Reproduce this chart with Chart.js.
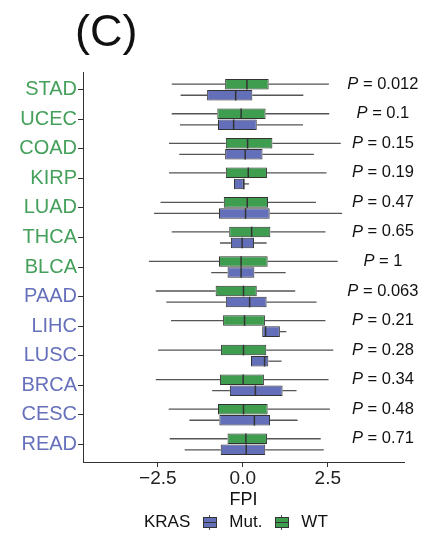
<!DOCTYPE html>
<html>
<head>
<meta charset="utf-8">
<title>FPI by KRAS status</title>
<script src="https://cdn.jsdelivr.net/npm/chart.js@4.4.0/dist/chart.umd.min.js"></script>
<style>
    body { margin: 0; background: #fff; font-family: "Liberation Sans", Arial, sans-serif; }
    #page { position: relative; width: 430px; height: 540px; overflow: hidden; }
    #panel { position: absolute; left: 75px; top: 8px; font-size: 45px; line-height: 45px; color: #111; }
    #fpiChart { position: absolute; left: 0; top: 0; }
    #legend { position: absolute; left: 144px; top: 512px; height: 20px; display: flex; align-items: center;
              font-size: 17px; line-height: 20px; color: #111; }
    .key { position: relative; display: inline-block; width: 15px; height: 15px; margin: 0 12px; }
    .key::before { content: ''; position: absolute; left: 7px; top: 0; height: 15px; border-left: 1px solid #555; }
    .key i { position: absolute; left: 1px; top: 2px; width: 12px; height: 9px; border: 1px solid #333; }
    .key i::after { content: ''; position: absolute; left: 0; right: 0; top: 4px; border-top: 1px solid #333; }
    .key.mut i { background: #6370b9; }
    .key.wt i { background: #3f9d50; }
</style>
</head>
<body>
<div id="page">
    <canvas id="fpiChart" width="430" height="540"></canvas>
    <div id="panel">(C)</div>
    <div id="legend">
        <span>KRAS</span><span class="key mut"><i></i></span><span>Mut.</span><span class="key wt"><i></i></span><span>WT</span>
    </div>
</div>
<script>
    // Categories (top to bottom) and label colour group
    const cancerTypes = ['STAD', 'UCEC', 'COAD', 'KIRP', 'LUAD', 'THCA', 'BLCA', 'PAAD', 'LIHC', 'LUSC', 'BRCA', 'CESC', 'READ'];
    const labelGroup = ['wt', 'wt', 'wt', 'wt', 'wt', 'wt', 'wt', 'mut', 'mut', 'mut', 'mut', 'mut', 'mut'];

    // KRAS wild type boxplot stats
    const wtMin    = [-2.09, -2.09, -2.17, -2.17, -2.42, -2.09, -2.76, -2.56, -2.11, -2.49, -2.56, -2.18, -2.15];
    const wtQ1     = [-0.52, -0.75, -0.50, -0.50, -0.56, -0.40, -0.70, -0.80, -0.58, -0.64, -0.67, -0.73, -0.45];
    const wtMedian = [0.12, -0.05, 0.14, 0.16, 0.13, 0.26, -0.05, 0.02, 0.05, 0.02, 0.01, 0.02, 0.09];
    const wtQ3     = [0.76, 0.67, 0.87, 0.71, 0.74, 0.81, 0.73, 0.41, 0.65, 0.69, 0.62, 0.73, 0.71];
    const wtMax    = [2.53, 2.54, 2.88, 2.46, 2.15, 2.43, 2.79, 1.54, 2.43, 2.66, 2.52, 2.56, 2.29];

    // KRAS mutant boxplot stats
    const mutMin    = [-1.83, -1.85, -1.87, -0.26, -2.61, -0.67, -0.93, -2.25, 0.57, 0.24, -0.90, -1.57, -1.71];
    const mutQ1     = [-1.05, -0.73, -0.52, -0.26, -0.70, -0.35, -0.45, -0.50, 0.57, 0.24, -0.38, -0.69, -0.65];
    const mutMedian = [-0.21, -0.27, 0.07, 0.03, 0.08, -0.02, -0.05, 0.20, 0.67, 0.64, 0.37, 0.34, 0.10];
    const mutQ3     = [0.28, 0.41, 0.58, 0.03, 0.79, 0.33, 0.34, 0.70, 1.09, 0.75, 1.17, 0.80, 0.66];
    const mutMax    = [1.78, 1.77, 2.09, 0.18, 2.92, 0.70, 1.26, 2.17, 1.28, 1.14, 1.58, 1.61, 2.38];

    const pValues = ['0.012', '0.1', '0.15', '0.19', '0.47', '0.65', '1', '0.063', '0.21', '0.28', '0.34', '0.48', '0.71'];
    const xTicks = [-2.5, 0, 2.5];

    const FONT = '"Liberation Sans", Arial, sans-serif';
    const greenFill = '#3f9d50';
    const blueFill = '#6370b9';
    const greenText = '#45a05c';
    const blueText = '#6670bb';

    const stats = [
        { min: wtMin, med: wtMedian, max: wtMax },
        { min: mutMin, med: mutMedian, max: mutMax }
    ];

    // Whiskers behind the boxes, medians and P values on top
    const boxplotExtras = {
        id: 'boxplotExtras',
        beforeDatasetsDraw(chart) {
            const ctx = chart.ctx;
            const x = chart.scales.x;
            ctx.save();
            ctx.strokeStyle = '#555';
            ctx.lineWidth = 1.3;
            stats.forEach((s, d) => {
                chart.getDatasetMeta(d).data.forEach((bar, i) => {
                    const q = chart.data.datasets[d].data[i].x;
                    ctx.beginPath();
                    ctx.moveTo(x.getPixelForValue(s.min[i]), bar.y);
                    ctx.lineTo(x.getPixelForValue(q[0]), bar.y);
                    ctx.moveTo(x.getPixelForValue(q[1]), bar.y);
                    ctx.lineTo(x.getPixelForValue(s.max[i]), bar.y);
                    ctx.stroke();
                });
            });
            ctx.restore();
        },
        afterDatasetsDraw(chart) {
            const ctx = chart.ctx;
            const x = chart.scales.x;
            ctx.save();
            ctx.strokeStyle = '#333';
            ctx.lineWidth = 1.5;
            stats.forEach((s, d) => {
                chart.getDatasetMeta(d).data.forEach((bar, i) => {
                    const px = x.getPixelForValue(s.med[i]);
                    ctx.beginPath();
                    ctx.moveTo(px, bar.y - bar.height / 2);
                    ctx.lineTo(px, bar.y + bar.height / 2);
                    ctx.stroke();
                });
            });

            // P values beside the WT box of each row
            ctx.fillStyle = '#111';
            ctx.textBaseline = 'middle';
            ctx.textAlign = 'left';
            const cx = x.getPixelForValue(4.12);
            chart.getDatasetMeta(0).data.forEach((bar, i) => {
                const rest = ' = ' + pValues[i];
                ctx.font = 'italic 16.5px ' + FONT;
                const wP = ctx.measureText('P').width;
                ctx.font = '16.5px ' + FONT;
                const wR = ctx.measureText(rest).width;
                const start = cx - (wP + wR) / 2;
                ctx.font = 'italic 16.5px ' + FONT;
                ctx.fillText('P', start, bar.y);
                ctx.font = '16.5px ' + FONT;
                ctx.fillText(rest, start + wP, bar.y);
            });
            ctx.restore();
        }
    };

    const ctx = document.getElementById('fpiChart').getContext('2d');
    const fpiChart = new Chart(ctx, {
        type: 'bar',
        data: {
            datasets: [{
                label: 'WT',
                data: cancerTypes.map((c, i) => ({ y: i, x: [wtQ1[i], wtQ3[i]] })),
                backgroundColor: greenFill,
                borderColor: '#333',
                borderWidth: 1,
                borderSkipped: false
            }, {
                label: 'Mut.',
                data: cancerTypes.map((c, i) => ({ y: i, x: [mutQ1[i], mutQ3[i]] })),
                backgroundColor: blueFill,
                borderColor: '#333',
                borderWidth: 1,
                borderSkipped: false
            }]
        },
        options: {
            indexAxis: 'y',
            responsive: false,
            animation: false,
            devicePixelRatio: 1,
            categoryPercentage: 0.75,
            barPercentage: 0.95,
            layout: { padding: { top: 72, right: 26, bottom: 28, left: 0 } },
            plugins: {
                legend: { display: false },
                tooltip: { enabled: false }
            },
            scales: {
                x: {
                    type: 'linear',
                    min: -4.7,
                    max: 4.74,
                    afterBuildTicks: function(scale) {
                        scale.ticks = xTicks.map(v => ({ value: v }));
                    },
                    afterFit: function(scale) {
                        scale.height = 50;
                    },
                    grid: { drawOnChartArea: false, drawTicks: true, tickLength: 5, color: '#333' },
                    border: { color: '#333', width: 1 },
                    ticks: {
                        padding: 0,
                        color: '#222',
                        font: { family: FONT, size: 19 },
                        callback: function(value) {
                            return value < 0 ? '\u2212' + Math.abs(value).toFixed(1) : value.toFixed(1);
                        }
                    },
                    title: {
                        display: true,
                        text: 'FPI',
                        color: '#111',
                        padding: { top: 0, bottom: 1 },
                        font: { family: FONT, size: 18 }
                    }
                },
                y: {
                    type: 'linear',
                    reverse: true,
                    offset: false,
                    min: -0.6,
                    max: 12.6,
                    afterBuildTicks: function(scale) {
                        scale.ticks = cancerTypes.map((c, i) => ({ value: i }));
                    },
                    afterFit: function(scale) {
                        scale.width = 83;
                    },
                    grid: { offset: false, drawOnChartArea: false, drawTicks: true, tickLength: 5, color: '#333' },
                    border: { color: '#333', width: 1 },
                    ticks: {
                        padding: 1,
                        font: { family: FONT, size: 20 },
                        color: function(context) {
                            return labelGroup[context.tick.value] === 'wt' ? greenText : blueText;
                        },
                        callback: function(value) {
                            return cancerTypes[value];
                        }
                    }
                }
            }
        },
        plugins: [boxplotExtras]
    });
</script>
</body>
</html>
